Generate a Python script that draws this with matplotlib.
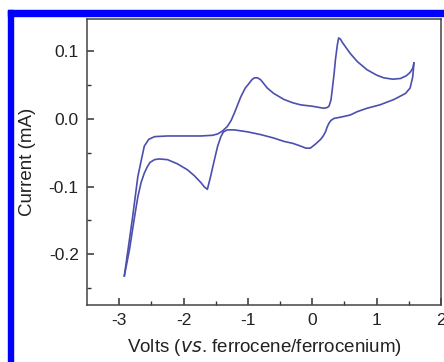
import matplotlib
matplotlib.use('Agg')
import matplotlib.pyplot as plt
from matplotlib.patches import Rectangle

plt.rcParams['font.family'] = ['Liberation Sans', 'DejaVu Sans']

# forward scan (upper branch), volts and mA
fwdV = [-2.92, -2.87, -2.79, -2.71, -2.65, -2.61, -2.54, -2.45, -2.25, -2.0, -1.73, -1.55, -1.47,
        -1.40, -1.32, -1.26, -1.21, -1.16, -1.11, -1.04, -0.98, -0.94, -0.90, -0.85, -0.80, -0.75,
        -0.70, -0.60, -0.44, -0.30, -0.18, 0.0, 0.18, 0.23, 0.26, 0.29, 0.31, 0.34, 0.36, 0.39,
        0.41, 0.44, 0.47, 0.53, 0.59, 0.70, 0.85, 1.0, 1.11, 1.25, 1.37, 1.46, 1.52, 1.56, 1.58]
fwdI = [-0.232, -0.198, -0.144, -0.085, -0.058, -0.040, -0.030, -0.026, -0.025, -0.025, -0.025,
        -0.024, -0.022, -0.018, -0.011, -0.002, 0.009, 0.021, 0.033, 0.046, 0.053, 0.058, 0.061,
        0.061, 0.058, 0.052, 0.046, 0.038, 0.029, 0.024, 0.021, 0.019, 0.016, 0.017, 0.019, 0.028,
        0.043, 0.068, 0.088, 0.110, 0.120, 0.118, 0.113, 0.105, 0.097, 0.085, 0.073, 0.065, 0.061,
        0.059, 0.060, 0.064, 0.069, 0.075, 0.083]

# reverse scan (lower branch)
revV = [1.58, 1.56, 1.52, 1.45, 1.27, 1.05, 0.85, 0.70, 0.59, 0.45, 0.34, 0.29, 0.26, 0.23, 0.21,
        0.17, 0.13, 0.05, -0.03, -0.10, -0.18, -0.30, -0.44, -0.60, -0.80, -1.0, -1.21, -1.32,
        -1.38, -1.42, -1.47, -1.52, -1.58, -1.63, -1.68, -1.73, -1.83, -1.94, -2.1, -2.25, -2.38,
        -2.45, -2.52, -2.56, -2.61, -2.66, -2.71, -2.76, -2.84, -2.92]
revI = [0.083, 0.062, 0.046, 0.038, 0.029, 0.021, 0.016, 0.011, 0.006, 0.003, 0.001, -0.002,
        -0.006, -0.012, -0.018, -0.025, -0.030, -0.037, -0.043, -0.043, -0.040, -0.036, -0.033,
        -0.028, -0.023, -0.019, -0.016, -0.016, -0.019, -0.026, -0.040, -0.060, -0.085, -0.104,
        -0.100, -0.094, -0.084, -0.075, -0.066, -0.060, -0.059, -0.060, -0.064, -0.070, -0.080,
        -0.094, -0.115, -0.144, -0.193, -0.232]

xTicks = [-3, -2, -1, 0, 1, 2]
xTickLabels = ['-3', '-2', '-1', '0', '1', '2']
yTicks = [-0.2, -0.1, 0.0, 0.1]
yTickLabels = ['-0.2', '-0.1', '0.0', '0.1']

W, H = 444, 362
fig = plt.figure(figsize=(W / 100, H / 100), dpi=100)

# blue frame (partially cropped)
fig.patches.append(Rectangle((8 / W, 1 - 16 / H), 1, 6 / H, transform=fig.transFigure,
                             color='#0000ff', zorder=0))
fig.patches.append(Rectangle((8 / W, 0), 5 / W, 1 - 10 / H, transform=fig.transFigure,
                             color='#0000ff', zorder=0))

ax = fig.add_axes([87 / W, 1 - 305 / H, (441 - 87) / W, (305 - 19) / H])
lineColor = '#4b4fae'
ax.plot(fwdV, fwdI, color=lineColor, lw=1.2)
ax.plot(revV, revI, color=lineColor, lw=1.2)

ax.set_xlim(-3.5, 2.0)
ax.set_ylim(-0.275, 0.148)
ax.set_xticks(xTicks)
ax.set_xticklabels(xTickLabels)
ax.set_yticks(yTicks)
ax.set_yticklabels(yTickLabels)
ax.set_xticks([-2.5, -1.5, -0.5, 0.5, 1.5], minor=True)
ax.set_yticks([-0.25, -0.15, -0.05, 0.05], minor=True)
ax.tick_params(direction='in', which='both', colors='#333333', labelcolor='#222222',
               labelsize=12.5, top=False, right=False)
ax.tick_params(which='major', length=5, width=1.1, pad=6)
ax.tick_params(which='minor', length=3, width=1.0)
for s in ax.spines.values():
    s.set_color('#444444')
    s.set_linewidth(1.1)

ax.set_xlabel('Volts ($\\it{vs}$. ferrocene/ferrocenium)', fontsize=13.5, color='#222222', labelpad=6)
ax.set_ylabel('Current (mA)', fontsize=13.5, color='#222222', labelpad=9)

fig.savefig('out.png', dpi=100)
